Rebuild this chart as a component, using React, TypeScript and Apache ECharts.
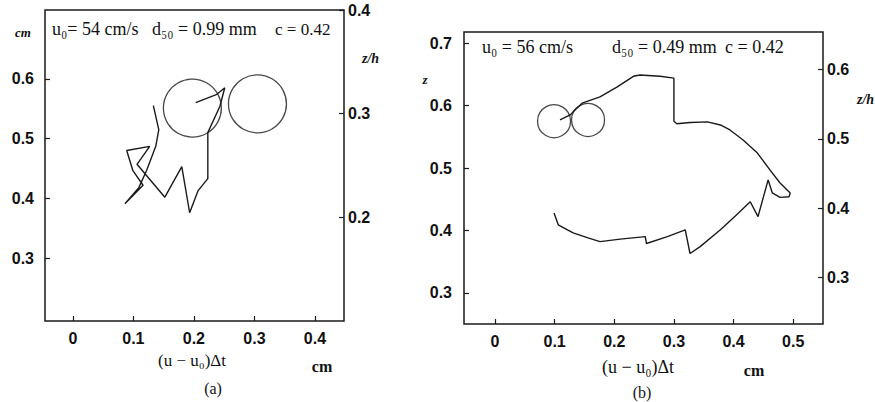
import React, { useEffect, useRef } from "react";
import * as echarts from "echarts";

// Panel (a): u0 = 54 cm/s, d50 = 0.99 mm — particle path, x = (u - u0)Δt [cm], z [cm]
const pathA: [number, number][] = [
  [0.133, 0.555], [0.142, 0.515], [0.137, 0.487], [0.122, 0.447], [0.109, 0.418],
  [0.086, 0.391], [0.116, 0.422], [0.099, 0.447], [0.089, 0.480], [0.127, 0.487],
  [0.106, 0.457], [0.152, 0.402], [0.180, 0.453], [0.193, 0.376], [0.207, 0.413],
  [0.223, 0.433], [0.223, 0.510], [0.243, 0.554], [0.251, 0.585], [0.238, 0.574],
  [0.203, 0.560],
];
// Grain outlines drawn at their centres
const grainsA: [number, number][] = [[0.1975, 0.551], [0.305, 0.558]];

// Panel (b): u0 = 56 cm/s, d50 = 0.49 mm
const pathB: [number, number][] = [
  [0.099, 0.428], [0.106, 0.409], [0.131, 0.396], [0.156, 0.388], [0.176, 0.382],
  [0.210, 0.386], [0.252, 0.390], [0.254, 0.379], [0.289, 0.390], [0.319, 0.401],
  [0.327, 0.363], [0.344, 0.374], [0.378, 0.401], [0.403, 0.423], [0.428, 0.446],
  [0.441, 0.422], [0.458, 0.481], [0.465, 0.460], [0.478, 0.453], [0.493, 0.454],
  [0.495, 0.460], [0.478, 0.476], [0.461, 0.497], [0.440, 0.524], [0.416, 0.545],
  [0.394, 0.561], [0.378, 0.569], [0.356, 0.574], [0.327, 0.573], [0.305, 0.571],
  [0.300, 0.575], [0.300, 0.644], [0.277, 0.647], [0.243, 0.649], [0.232, 0.647],
  [0.205, 0.630], [0.176, 0.614], [0.146, 0.604], [0.131, 0.590], [0.126, 0.585],
  [0.109, 0.577],
];
const grainsB: [number, number][] = [[0.099, 0.575], [0.156, 0.577]];

// Tick values
const xTicksA = [0, 0.1, 0.2, 0.3, 0.4];
const zTicksA = [0.3, 0.4, 0.5, 0.6];
const zhTicksA = [0.2, 0.3, 0.4];
const xTicksB = [0, 0.1, 0.2, 0.3, 0.4, 0.5];
const zTicksB = [0.3, 0.4, 0.5, 0.6, 0.7];
const zhTicksB = [0.3, 0.4, 0.5, 0.6];

const SANS = '"Liberation Sans", Arial, sans-serif';
const SERIF = '"Liberation Serif", "Times New Roman", "DejaVu Serif", serif';
const INK = "#1a1a1a";

function axis(
  gridIndex: number,
  min: number,
  max: number,
  ticks: number[],
  margin: number,
  position?: string
) {
  return {
    type: "value",
    gridIndex,
    min,
    max,
    position,
    axisLine: { show: false, onZero: false },
    splitLine: { show: false },
    axisTick: {
      show: true,
      inside: true,
      length: 5,
      customValues: ticks,
      lineStyle: { color: INK, width: 1.2 },
    },
    axisLabel: {
      customValues: ticks,
      margin,
      color: "#111",
      fontFamily: SANS,
      fontWeight: "bold",
      fontSize: 16,
      formatter: (v: number) => (v === 0 ? "0" : String(v)),
    },
  };
}

function txt(
  x: number,
  y: number,
  text: string,
  opts: { size?: number; italic?: boolean; bold?: boolean; align?: string; family?: string } = {}
) {
  return {
    type: "text",
    x,
    y,
    silent: true,
    style: {
      text,
      fill: "#111",
      fontFamily: opts.family || SERIF,
      fontSize: opts.size || 18,
      fontStyle: opts.italic ? "italic" : "normal",
      fontWeight: opts.bold ? "bold" : "normal",
      align: opts.align || "left",
      verticalAlign: "middle",
    },
  };
}

export default function App() {
  const ref = useRef<HTMLDivElement>(null);

  useEffect(() => {
    if (!ref.current) return;
    const chart = echarts.init(ref.current, undefined, { renderer: "svg" });

    const lineStyle = { color: INK, width: 1.4 };
    const grainStyle = { color: "rgba(0,0,0,0)", borderColor: INK, borderWidth: 1.3 };

    chart.setOption({
      animation: false,
      backgroundColor: "#fff",
      grid: [
        { left: 45, top: 10, width: 299, height: 311, show: true, borderColor: INK, borderWidth: 1.5, backgroundColor: "transparent" },
        { left: 464, top: 32, width: 359, height: 292, show: true, borderColor: INK, borderWidth: 1.5, backgroundColor: "transparent" },
      ],
      xAxis: [
        axis(0, -0.046, 0.448, xTicksA, 9, "bottom"),
        axis(1, -0.052, 0.55, xTicksB, 9, "bottom"),
      ],
      yAxis: [
        axis(0, 0.195, 0.715, zTicksA, 11, "left"),
        axis(0, 0.1, 0.4, zhTicksA, 4, "right"),
        axis(1, 0.25, 0.718, zTicksB, 12, "left"),
        axis(1, 0.233, 0.654, zhTicksB, 4, "right"),
      ],
      series: [
        {
          type: "line",
          xAxisIndex: 0,
          yAxisIndex: 0,
          data: pathA,
          showSymbol: false,
          lineStyle,
          silent: true,
        },
        {
          type: "scatter",
          xAxisIndex: 0,
          yAxisIndex: 0,
          data: grainsA,
          symbol: "circle",
          symbolSize: 58,
          itemStyle: grainStyle,
          silent: true,
        },
        {
          type: "line",
          xAxisIndex: 1,
          yAxisIndex: 2,
          data: pathB,
          showSymbol: false,
          lineStyle,
          silent: true,
        },
        {
          type: "scatter",
          xAxisIndex: 1,
          yAxisIndex: 2,
          data: grainsB,
          symbol: "circle",
          symbolSize: 33,
          itemStyle: grainStyle,
          silent: true,
        },
      ],
      graphic: [
        // panel (a) annotations
        txt(52, 29, "u₀= 54 cm/s"),
        txt(152, 29, "d₅₀ = 0.99 mm"),
        txt(275, 29, "c = 0.42", { size: 17 }),
        txt(23, 32, "cm", { size: 13, italic: true, bold: true, align: "center" }),
        txt(362, 58, "z/h", { size: 14, italic: true, bold: true }),
        txt(192, 360, "(u − u₀)Δt", { size: 17, align: "center" }),
        txt(322, 366, "cm", { size: 16, bold: true, align: "center" }),
        txt(213, 388, "(a)", { size: 16, align: "center" }),
        // panel (b) annotations
        txt(482, 47, "u₀ = 56 cm/s"),
        txt(612, 47, "d₅₀ = 0.49 mm"),
        txt(725, 47, "c = 0.42"),
        txt(425, 79, "z", { size: 13, italic: true, bold: true, align: "center" }),
        txt(857, 99, "z/h", { size: 14, italic: true, bold: true }),
        txt(638, 367, "(u − u₀)Δt", { align: "center" }),
        txt(754, 370, "cm", { size: 16, bold: true, align: "center" }),
        txt(642, 392, "(b)", { size: 16, align: "center" }),
      ],
    });

    return () => chart.dispose();
  }, []);

  return (
    <div
      ref={ref}
      style={{ position: "absolute", left: 0, top: 0, width: 875, height: 402, background: "#fff" }}
    />
  );
}
